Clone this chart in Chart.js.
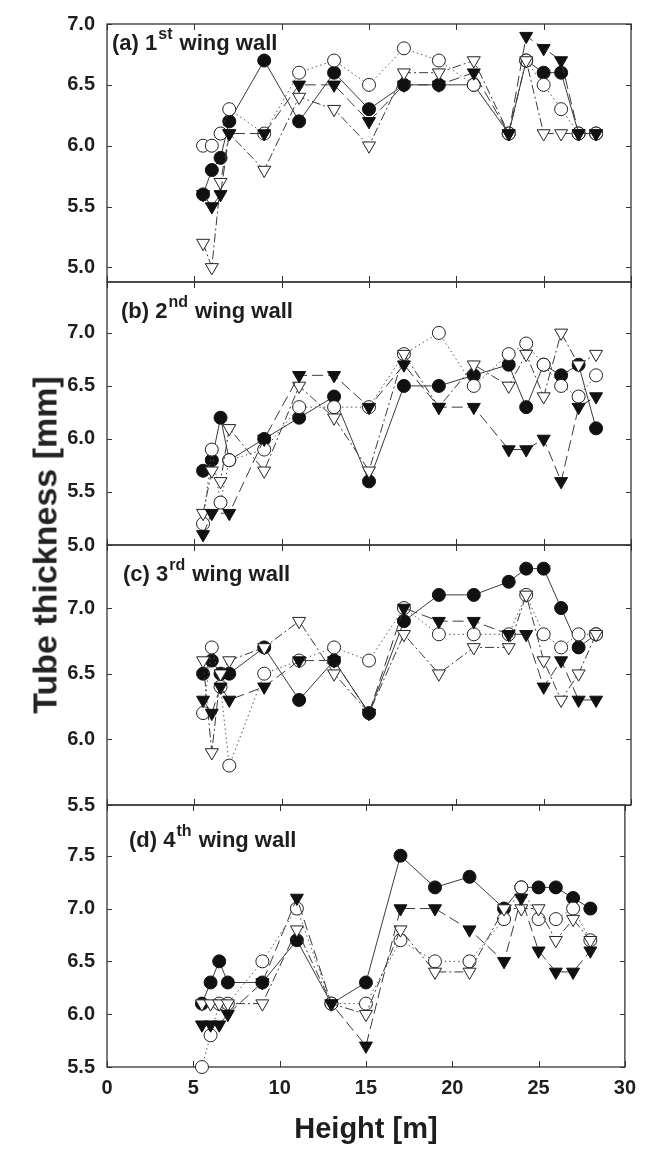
<!DOCTYPE html>
<html><head><meta charset="utf-8">
<script src="https://cdn.jsdelivr.net/npm/chart.js@4/dist/chart.umd.min.js"></script>
<style>
html,body{margin:0;padding:0;background:#fff;}
#wrap{position:relative;width:645px;height:1155px;overflow:hidden;background:#fff;}
canvas{position:absolute;left:0;top:0;}
#ytitle{position:absolute;left:45px;top:545px;transform:translate(-50%,-50%) rotate(-90deg);font:bold 34px "Liberation Sans",Arial,sans-serif;white-space:nowrap;color:#222;}
</style></head><body>
<div id="wrap">
<canvas id="pa" width="645" height="1155"></canvas>
<canvas id="pb" width="645" height="1155"></canvas>
<canvas id="pc" width="645" height="1155"></canvas>
<canvas id="pd" width="645" height="1155"></canvas>
<div id="ytitle">Tube thickness [mm]</div>
</div>
<script>
// Heights (x values, m)
const heights = [5.5, 6, 6.5, 7, 9, 11, 13, 15, 17, 19, 21, 23, 24, 25, 26, 27, 28];
const xTicks = [0, 5, 10, 15, 20, 25, 30];

// (a) 1st wing wall
const aFilledCircle   = [5.6, 5.8, 5.9, 6.2, 6.7, 6.2, 6.6, 6.3, 6.5, 6.5, 6.5, 6.1, 6.7, 6.6, 6.6, 6.1, 6.1];
const aOpenCircle     = [6.0, 6.0, 6.1, 6.3, 6.1, 6.6, 6.7, 6.5, 6.8, 6.7, 6.5, 6.1, 6.7, 6.5, 6.3, 6.1, 6.1];
const aFilledTriangle = [5.6, 5.5, 5.6, 6.1, 6.1, 6.5, 6.5, 6.2, 6.5, 6.5, 6.6, 6.1, 6.9, 6.8, 6.7, 6.1, 6.1];
const aOpenTriangle   = [5.2, 5.0, 5.7, 6.1, 5.8, 6.4, 6.3, 6.0, 6.6, 6.6, 6.7, 6.1, 6.7, 6.1, 6.1, 6.1, 6.1];
const aTicks = [5.0, 5.5, 6.0, 6.5, 7.0];

// (b) 2nd wing wall
const bFilledCircle   = [5.7, 5.8, 6.2, 5.8, 6.0, 6.2, 6.4, 5.6, 6.5, 6.5, 6.6, 6.7, 6.3, 6.7, 6.6, 6.7, 6.1];
const bOpenCircle     = [5.2, 5.9, 5.4, 5.8, 5.9, 6.3, 6.3, 6.3, 6.8, 7.0, 6.5, 6.8, 6.9, 6.7, 6.5, 6.4, 6.6];
const bFilledTriangle = [5.1, 5.3, null, 5.3, 6.0, 6.6, 6.6, 6.3, 6.7, 6.3, 6.3, 5.9, 5.9, 6.0, 5.6, 6.3, 6.4];
const bOpenTriangle   = [5.3, 5.7, 5.6, 6.1, 5.7, 6.5, 6.2, 5.7, 6.8, 6.3, 6.7, 6.5, 6.8, 6.4, 7.0, 6.7, 6.8];
const bTicks = [5.0, 5.5, 6.0, 6.5, 7.0];

// (c) 3rd wing wall
const cFilledCircle   = [6.5, 6.6, 6.5, 6.5, 6.7, 6.3, 6.6, 6.2, 6.9, 7.1, 7.1, 7.2, 7.3, 7.3, 7.0, 6.7, 6.8];
const cOpenCircle     = [6.2, 6.7, 6.4, 5.8, 6.5, 6.6, 6.7, 6.6, 7.0, 6.8, 6.8, 6.8, 7.1, 6.8, 6.7, 6.8, 6.8];
const cFilledTriangle = [6.3, 6.2, 6.4, 6.3, 6.4, 6.6, 6.6, 6.2, 7.0, 6.9, 6.9, 6.8, 6.8, 6.4, 6.6, 6.3, 6.3];
const cOpenTriangle   = [6.6, 5.9, 6.5, 6.6, 6.7, 6.9, 6.5, 6.2, 6.8, 6.5, 6.7, 6.7, 7.1, 6.6, 6.3, 6.5, 6.8];
const cTicks = [5.5, 6.0, 6.5, 7.0];

// (d) 4th wing wall
const dFilledCircle   = [6.1, 6.3, 6.5, 6.3, 6.3, 6.7, 6.1, 6.3, 7.5, 7.2, 7.3, 7.0, 7.2, 7.2, 7.2, 7.1, 7.0];
const dOpenCircle     = [5.5, 5.8, 6.1, 6.1, 6.5, 7.0, 6.1, 6.1, 6.7, 6.5, 6.5, 6.9, 7.2, 6.9, 6.9, 7.0, 6.7];
const dFilledTriangle = [5.9, 5.9, 5.9, 6.0, 6.3, 7.1, 6.1, 5.7, 7.0, 7.0, 6.8, 6.5, 7.1, 6.6, 6.4, 6.4, 6.6];
const dOpenTriangle   = [6.1, 6.1, 6.1, 6.1, 6.1, 6.8, 6.1, 6.0, 6.8, 6.4, 6.4, 7.0, 7.0, 7.0, 6.7, 6.9, 6.7];
const dTicks = [5.5, 6.0, 6.5, 7.0, 7.5];

const FONT = '"Liberation Sans", Arial, Helvetica, sans-serif';
const PAGE_H = 1155;
const PLOT_LEFT = 107, PLOT_RIGHT = 631;

function pts(vals) { return heights.map((h, i) => ({ x: h, y: vals[i] })); }

function makePanel(id, cfg) {
  const ds = [
    { data: pts(cfg.fc), order: 4, borderColor: '#3a3a3a', borderWidth: 1, borderDash: [],
      pointStyle: 'circle', pointRadius: 6.5, pointBackgroundColor: '#111', pointBorderColor: '#111', pointBorderWidth: 1 },
    { data: pts(cfg.oc), order: 3, borderColor: '#555', borderWidth: 1, borderDash: [1.5, 3],
      pointStyle: 'circle', pointRadius: 6.5, pointBackgroundColor: '#fff', pointBorderColor: '#222', pointBorderWidth: 1 },
    { data: pts(cfg.ot), order: 2, borderColor: '#3a3a3a', borderWidth: 1, borderDash: [9, 3, 2, 3],
      pointStyle: 'triangle', pointRotation: 180, pointRadius: 7.5, pointBackgroundColor: '#fff', pointBorderColor: '#222', pointBorderWidth: 1 },
    { data: pts(cfg.ft), order: 1, borderColor: '#3a3a3a', borderWidth: 1, borderDash: [11, 5],
      pointStyle: 'triangle', pointRotation: 180, pointRadius: 7.5, pointBackgroundColor: '#111', pointBorderColor: '#111', pointBorderWidth: 1 }
  ];
  ds.forEach(d => { d.clip = false; d.spanGaps = true; d.tension = 0; d.fill = false; });

  const frame = {
    id: 'frame' + id,
    beforeDatasetsDraw(chart) {
      const { ctx, chartArea: { left, right, top, bottom }, scales: { x, y } } = chart;
      ctx.save();
      // panel label
      ctx.fillStyle = '#1e1e1e';
      ctx.textBaseline = 'alphabetic';
      ctx.textAlign = 'left';
      ctx.font = 'bold 22px ' + FONT;
      const lx = cfg.lx, lb = cfg.lb;
      ctx.fillText(cfg.main, lx, lb);
      const w1 = ctx.measureText(cfg.main).width;
      ctx.font = 'bold 16px ' + FONT;
      ctx.fillText(cfg.sup, lx + w1 + 1, lb - 11);
      const w2 = ctx.measureText(cfg.sup).width;
      ctx.font = 'bold 22px ' + FONT;
      ctx.fillText(' wing wall', lx + w1 + 2 + w2, lb);
      // frame
      ctx.strokeStyle = '#333';
      ctx.lineWidth = 1.3;
      ctx.strokeRect(left, top, right - left, bottom - top);
      ctx.beginPath();
      ctx.lineWidth = 1;
      xTicks.forEach(v => {
        const px = Math.round(x.getPixelForValue(v)) + 0.5;
        ctx.moveTo(px, top); ctx.lineTo(px, top + 6);
        ctx.moveTo(px, bottom); ctx.lineTo(px, bottom - 6);
      });
      cfg.ticks.forEach(v => {
        const py = Math.round(y.getPixelForValue(v)) + 0.5;
        ctx.moveTo(left, py); ctx.lineTo(left + 5, py);
        ctx.moveTo(right, py); ctx.lineTo(right - 5, py);
      });
      ctx.stroke();
      ctx.restore();
    }
  };

  return new Chart(document.getElementById(id), {
    type: 'line',
    data: { datasets: ds },
    plugins: [frame],
    options: {
      responsive: false,
      animation: false,
      devicePixelRatio: 1,
      layout: { padding: { top: cfg.top, bottom: cfg.showX ? 0 : PAGE_H - cfg.bottom, left: 0, right: 645 - PLOT_RIGHT } },
      plugins: { legend: { display: false }, tooltip: { enabled: false } },
      scales: {
        x: {
          type: 'linear', min: 0, max: 30, display: cfg.showX,
          afterBuildTicks: s => { s.ticks = xTicks.map(v => ({ value: v })); },
          afterFit: s => { if (cfg.showX) s.height = PAGE_H - cfg.bottom; },
          grid: { display: false, drawTicks: false },
          border: { display: false },
          ticks: { padding: 9, color: '#1e1e1e', font: { family: FONT, size: 20, weight: 'bold' }, maxRotation: 0, autoSkip: false },
          title: { display: cfg.showX, text: 'Height [m]', color: '#1e1e1e', font: { family: FONT, size: 29, weight: 'bold' }, padding: { top: 0, bottom: 8 } }
        },
        y: {
          type: 'linear', min: cfg.min, max: cfg.max,
          afterBuildTicks: s => { s.ticks = cfg.ticks.map(v => ({ value: v })); },
          afterFit: s => { s.width = PLOT_LEFT; },
          grid: { display: false, drawTicks: false },
          border: { display: false },
          ticks: { padding: 12, color: '#1e1e1e', font: { family: FONT, size: 20, weight: 'bold' }, autoSkip: false, callback: v => Number(v).toFixed(1) }
        }
      }
    }
  });
}

makePanel('pa', { fc: aFilledCircle, oc: aOpenCircle, ft: aFilledTriangle, ot: aOpenTriangle, ticks: aTicks,
  min: 4.88, max: 7.0, top: 19, bottom: 282, showX: false, main: '(a) 1', sup: 'st', lx: 112, lb: 50 });
makePanel('pb', { fc: bFilledCircle, oc: bOpenCircle, ft: bFilledTriangle, ot: bOpenTriangle, ticks: bTicks,
  min: 5.0, max: 7.48, top: 282, bottom: 545, showX: false, main: '(b) 2', sup: 'nd', lx: 121, lb: 318 });
makePanel('pc', { fc: cFilledCircle, oc: cOpenCircle, ft: cFilledTriangle, ot: cOpenTriangle, ticks: cTicks,
  min: 5.5, max: 7.48, top: 545, bottom: 805, showX: false, main: '(c) 3', sup: 'rd', lx: 123, lb: 581 });
makePanel('pd', { fc: dFilledCircle, oc: dOpenCircle, ft: dFilledTriangle, ot: dOpenTriangle, ticks: dTicks,
  min: 5.5, max: 7.98, top: 805, bottom: 1067, showX: true, main: '(d) 4', sup: 'th', lx: 129, lb: 847 });
</script>
</body></html>
